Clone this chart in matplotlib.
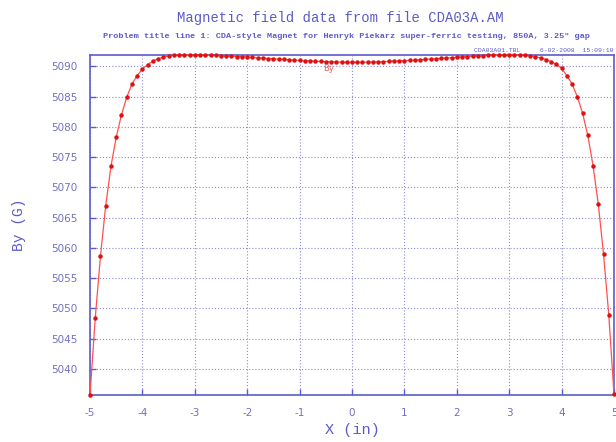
import numpy as np
import matplotlib
matplotlib.use("Agg")
import matplotlib.pyplot as plt

x_in = [round(-5.0 + 0.1 * i, 1) for i in range(101)]
by_gauss = [
    5035.7, 5048.4, 5058.7, 5067.0, 5073.5, 5078.3, 5082.0, 5084.9, 5087.1, 5088.5,
    5089.6, 5090.3, 5090.9, 5091.3, 5091.55, 5091.75, 5091.85, 5091.92, 5091.95, 5091.96,
    5091.95, 5091.92, 5091.89, 5091.86, 5091.82, 5091.78, 5091.74, 5091.70, 5091.65, 5091.60,
    5091.55, 5091.50, 5091.44, 5091.38, 5091.32, 5091.27, 5091.21, 5091.16, 5091.10, 5091.05,
    5091.00, 5090.95, 5090.91, 5090.87, 5090.83, 5090.80, 5090.77, 5090.74, 5090.72, 5090.70,
    5090.69,
    5090.69, 5090.70, 5090.72, 5090.74, 5090.77, 5090.80, 5090.84, 5090.88, 5090.92, 5090.96,
    5091.01, 5091.06, 5091.11, 5091.17, 5091.22, 5091.28, 5091.34, 5091.40, 5091.46, 5091.52,
    5091.58, 5091.64, 5091.70, 5091.75, 5091.80, 5091.85, 5091.90, 5091.94, 5091.97, 5091.98,
    5091.97, 5091.93, 5091.86, 5091.76, 5091.62, 5091.42, 5091.15, 5090.80, 5090.35, 5089.7,
    5088.5, 5087.1, 5085.0, 5082.3, 5078.6, 5073.6, 5067.3, 5059.0, 5049.0, 5035.8,
]
x_ticks = [-5, -4, -3, -2, -1, 0, 1, 2, 3, 4, 5]
y_ticks = [5040, 5045, 5050, 5055, 5060, 5065, 5070, 5075, 5080, 5085, 5090]

title = "Magnetic field data from file CDA03A.AM"
subtitle = 'Problem title line 1: CDA-style Magnet for Henryk Piekarz super-ferric testing, 850A, 3.25" gap'
fileinfo = "CDA03A01.TBL     6-02-2008  15:09:10"

BLUE = "#5c5cc8"
TICKC = "#7070c0"
GRIDC = "#8c8cd2"
MONO = ["Liberation Mono", "DejaVu Sans Mono"]

fig = plt.figure(figsize=(6.16, 4.42), dpi=100)
ax = fig.add_axes([90 / 616, 47 / 442, 524 / 616, 340 / 442])

ax.plot(x_in, by_gauss, color="#ff5050", lw=0.9, marker="o", ms=2.2,
        mfc="#dd1111", mec="#dd1111", clip_on=False, zorder=3)

ax.set_xlim(-5, 5)
ax.set_ylim(5035.7, 5091.9)
ax.set_xticks(x_ticks)
ax.set_yticks(y_ticks)
ax.set_xticklabels([str(v) for v in x_ticks])
ax.grid(True, ls=(0, (1, 1.8)), color=GRIDC, lw=0.8)
ax.tick_params(direction="in", length=4, width=1, color=BLUE,
               labelcolor=TICKC, labelsize=7.5, pad=9)
for s in ax.spines.values():
    s.set_color(BLUE)
    s.set_linewidth(1.2)

ax.set_xlabel("X (in)", family=MONO, fontsize=11, color=BLUE, labelpad=4)
ax.set_ylabel("By (G)", family=MONO, fontsize=10.5, color=BLUE, labelpad=18)

fig.text(340 / 616, 1 - 18 / 442, title, family=MONO, fontsize=10,
         color=BLUE, ha="center", va="center")
fig.text(346 / 616, 1 - 36 / 442, subtitle, family=MONO, fontsize=6.1,
         color=BLUE, ha="center", va="center", fontweight="bold")
fig.text(614 / 616, 1 - 50 / 442, fileinfo, family=MONO, fontsize=4.6,
         color=BLUE, ha="right", va="center")
ax.text(-0.45, 5089.6, "By", fontsize=6, color="#ee6060", ha="center", va="center")

fig.savefig("out.png", dpi=100)
